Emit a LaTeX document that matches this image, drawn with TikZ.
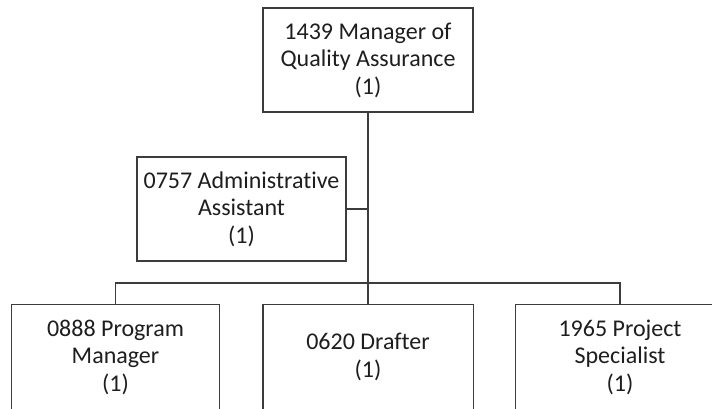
\documentclass[tikz,border=0pt]{standalone}
\usepackage{fontspec}
\setmainfont{Carlito}[Ligatures={NoCommon,NoRare,NoDiscretionary},Contextuals=NoAlternate]
\definecolor{linegray}{HTML}{3C3C3C}
\definecolor{textgray}{HTML}{1E1E1E}
\begin{document}
\begin{tikzpicture}[x=1pt,y=-1pt,
  orgbox/.style={draw=linegray, line width=1.1pt, fill=white, align=center,
    inner sep=0pt, minimum height=104pt, text=textgray,
    font=\fontsize{24}{27.5}\selectfont},
  openbox/.style={orgbox, draw=none},
  conn/.style={draw=linegray, line width=1.1pt}]
\useasboundingbox (0,0) rectangle (712,408);
\clip (0,0) rectangle (712,408);
\node[orgbox, minimum width=210pt] (qa) at (368,60) {1439 Manager of\\Quality Assurance\\(1)};
\node[orgbox, minimum width=209pt] (adm) at (241.5,209) {0757 Administrative\\Assistant\\(1)};
\node[openbox, minimum width=207pt] (pm) at (115.5,357) {0888 Program\\Manager\\(1)};
\node[openbox, minimum width=209pt] (dr) at (368,357) {0620 Drafter\\(1)};
\node[openbox, minimum width=208pt] (ps) at (620,357) {1965 Project\\Specialist\\(1)};
\foreach \b in {pm,dr,ps}
  \draw[conn] (\b.north west) rectangle (\b.south east |- 0,430);
\coordinate (bus) at (368,283);
\draw[conn] (qa.south) -- (dr.north);
\draw[conn] (adm.east) -- (adm.east -| qa.south);
\draw[conn] (pm.north) |- (bus) -| (ps.north);
\end{tikzpicture}
\end{document}
